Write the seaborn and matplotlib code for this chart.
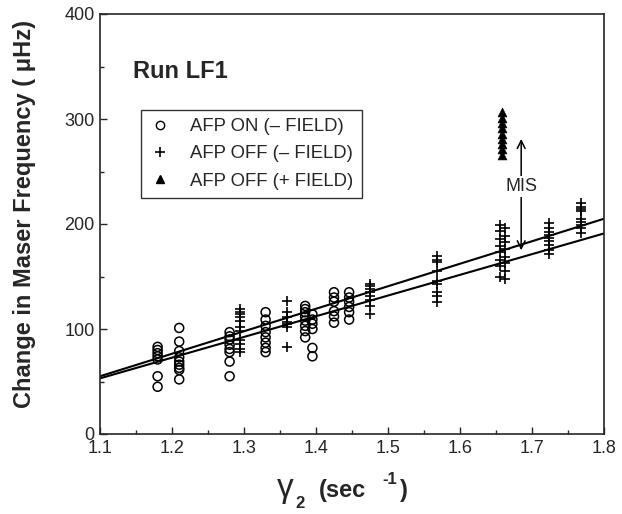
import matplotlib
matplotlib.use("Agg")
import matplotlib.pyplot as plt
from matplotlib.lines import Line2D
from matplotlib.ticker import MultipleLocator
import pandas as pd
import seaborn as sns

# -----------------------------------------------------------------------------
# DATA
# -----------------------------------------------------------------------------
# AFP ON (- field): open circles, one list of frequencies per gamma_2 column
on_gamma = [1.18, 1.21, 1.28, 1.33, 1.385, 1.395, 1.425, 1.446]
on_freq = [
    [83, 80, 77, 74, 71, 55, 45],
    [101, 88, 79, 73, 69, 66, 63, 61, 52],
    [97, 93, 90, 85, 81, 78, 69, 55],
    [116, 109, 103, 97, 92, 87, 82, 78],
    [122, 119, 116, 112, 108, 103, 98, 92],
    [114, 109, 105, 100, 82, 74],
    [135, 130, 126, 117, 112, 106],
    [135, 130, 126, 121, 116, 109],
]

# AFP OFF (- field): plus signs
off_gamma = [1.295, 1.36, 1.475, 1.568, 1.655, 1.662, 1.724, 1.768]
off_freq = [
    [119, 116, 114, 111, 108, 102, 98, 90, 86, 81, 78],
    [127, 116, 111, 107, 105, 102, 83],
    [143, 141, 138, 135, 131, 128, 122, 114],
    [170, 166, 164, 155, 146, 143, 135, 131, 126],
    [199, 193, 186, 179, 173, 166, 160, 150],
    [196, 189, 183, 176, 169, 163, 155, 148],
    [201, 196, 192, 190, 187, 184, 180, 175, 171],
    [220, 216, 214, 212, 205, 202, 199, 196, 191],
]

# AFP OFF (+ field): filled triangles
pos_gamma = [1.658]
pos_freq = [[307, 301, 296, 291, 286, 281, 276, 271, 266]]

# two straight-line fits (end points at gamma_2 = 1.1 and 1.8)
fit_gamma = [1.1, 1.8]
fit_upper = [55, 205]
fit_lower = [53, 191]

# MIS arrow
mis_gamma = 1.685
mis_top = 281
mis_bottom = 175
mis_label_y = 236


def to_frame(gammas, freqs):
    rows = []
    for g, fs in zip(gammas, freqs):
        for f in fs:
            rows.append({"gamma": g, "freq": f})
    return pd.DataFrame(rows)


df_on = to_frame(on_gamma, on_freq)
df_off = to_frame(off_gamma, off_freq)
df_pos = to_frame(pos_gamma, pos_freq)

# -----------------------------------------------------------------------------
# PLOT
# -----------------------------------------------------------------------------
sns.set_style("ticks")
plt.rcParams['font.family'] = ['Liberation Sans', 'DejaVu Sans']

fig = plt.figure(figsize=(6.22, 5.14), dpi=100)
ax = fig.add_axes([100 / 622, 80 / 514, 504 / 622, 420 / 514])

sns.lineplot(x=fit_gamma, y=fit_upper, color='black', lw=1.5, ax=ax)
sns.lineplot(x=fit_gamma, y=fit_lower, color='black', lw=1.5, ax=ax)

sns.scatterplot(data=df_on, x='gamma', y='freq', marker='o', s=42,
                facecolors='none', edgecolor='black', linewidth=1.1, ax=ax)
sns.scatterplot(data=df_off, x='gamma', y='freq', marker='+', s=60,
                color='black', linewidth=1.2, ax=ax)
sns.scatterplot(data=df_pos, x='gamma', y='freq', marker='^', s=40,
                color='black', edgecolor='black', linewidth=0.5, ax=ax)

# MIS arrow
ax.annotate('', xy=(mis_gamma, mis_bottom), xytext=(mis_gamma, mis_top),
            arrowprops=dict(arrowstyle='<->', color='black', lw=1.1,
                            mutation_scale=14, shrinkA=0, shrinkB=0))
ax.text(mis_gamma, mis_label_y, 'MIS', ha='center', va='center', fontsize=13,
        bbox=dict(facecolor='white', edgecolor='none', pad=1.5))

ax.text(1.146, 345, 'Run LF1', fontsize=17, fontweight='bold', ha='left',
        va='center')

ax.set_xlim(1.1, 1.8)
ax.set_ylim(0, 400)
ax.xaxis.set_major_locator(MultipleLocator(0.1))
ax.xaxis.set_minor_locator(MultipleLocator(0.05))
ax.yaxis.set_major_locator(MultipleLocator(100))
ax.yaxis.set_minor_locator(MultipleLocator(50))
ax.set_xticks([1.1, 1.2, 1.3, 1.4, 1.5, 1.6, 1.7, 1.8])
ax.set_xticklabels(['1.1', '1.2', '1.3', '1.4', '1.5', '1.6', '1.7', '1.8'])
ax.tick_params(which='major', direction='in', length=5, width=1,
               labelsize=13, pad=4)
ax.tick_params(which='minor', direction='in', length=3, width=1)
for sp in ax.spines.values():
    sp.set_visible(True)
    sp.set_linewidth(1.2)
ax.set_xlabel('')
ax.set_ylabel('')

handles = [
    Line2D([], [], marker='o', ls='none', mfc='none', mec='black', ms=6),
    Line2D([], [], marker='+', ls='none', color='black', ms=7, mew=1.2),
    Line2D([], [], marker='^', ls='none', color='black', ms=6),
]
labels = ['AFP ON (\u2013 FIELD)', 'AFP OFF (\u2013 FIELD)', 'AFP OFF (+ FIELD)']
leg = ax.legend(handles, labels, loc='upper left',
                bbox_to_anchor=(41 / 504, (434 - 110) / 420), frameon=True,
                fancybox=False, edgecolor='black', fontsize=13.3,
                handlelength=1.2, handletextpad=1.0, borderpad=0.45,
                labelspacing=0.55, borderaxespad=0)
leg.get_frame().set_linewidth(1.0)

fig.text(25 / 622, 1 - 214 / 514, 'Change in Maser Frequency ( \u03bcHz)',
         rotation=90, ha='center', va='center', fontsize=17,
         fontweight='bold')

# x-axis label: gamma_2 (sec^-1)
fig.text(285 / 622, 1 - 488 / 514, '\u03b3', fontsize=24, ha='center',
         va='center')
fig.text(300 / 622, 1 - 503 / 514, '2', fontsize=12, fontweight='bold',
         ha='center', va='center')
fig.text(319 / 622, 1 - 490 / 514, '(sec', fontsize=17, fontweight='bold',
         ha='left', va='center')
fig.text(382 / 622, 1 - 480 / 514, '-1', fontsize=12, fontweight='bold',
         ha='left', va='center')
fig.text(400 / 622, 1 - 490 / 514, ')', fontsize=17, fontweight='bold',
         ha='left', va='center')

fig.savefig('out.png', dpi=100)
